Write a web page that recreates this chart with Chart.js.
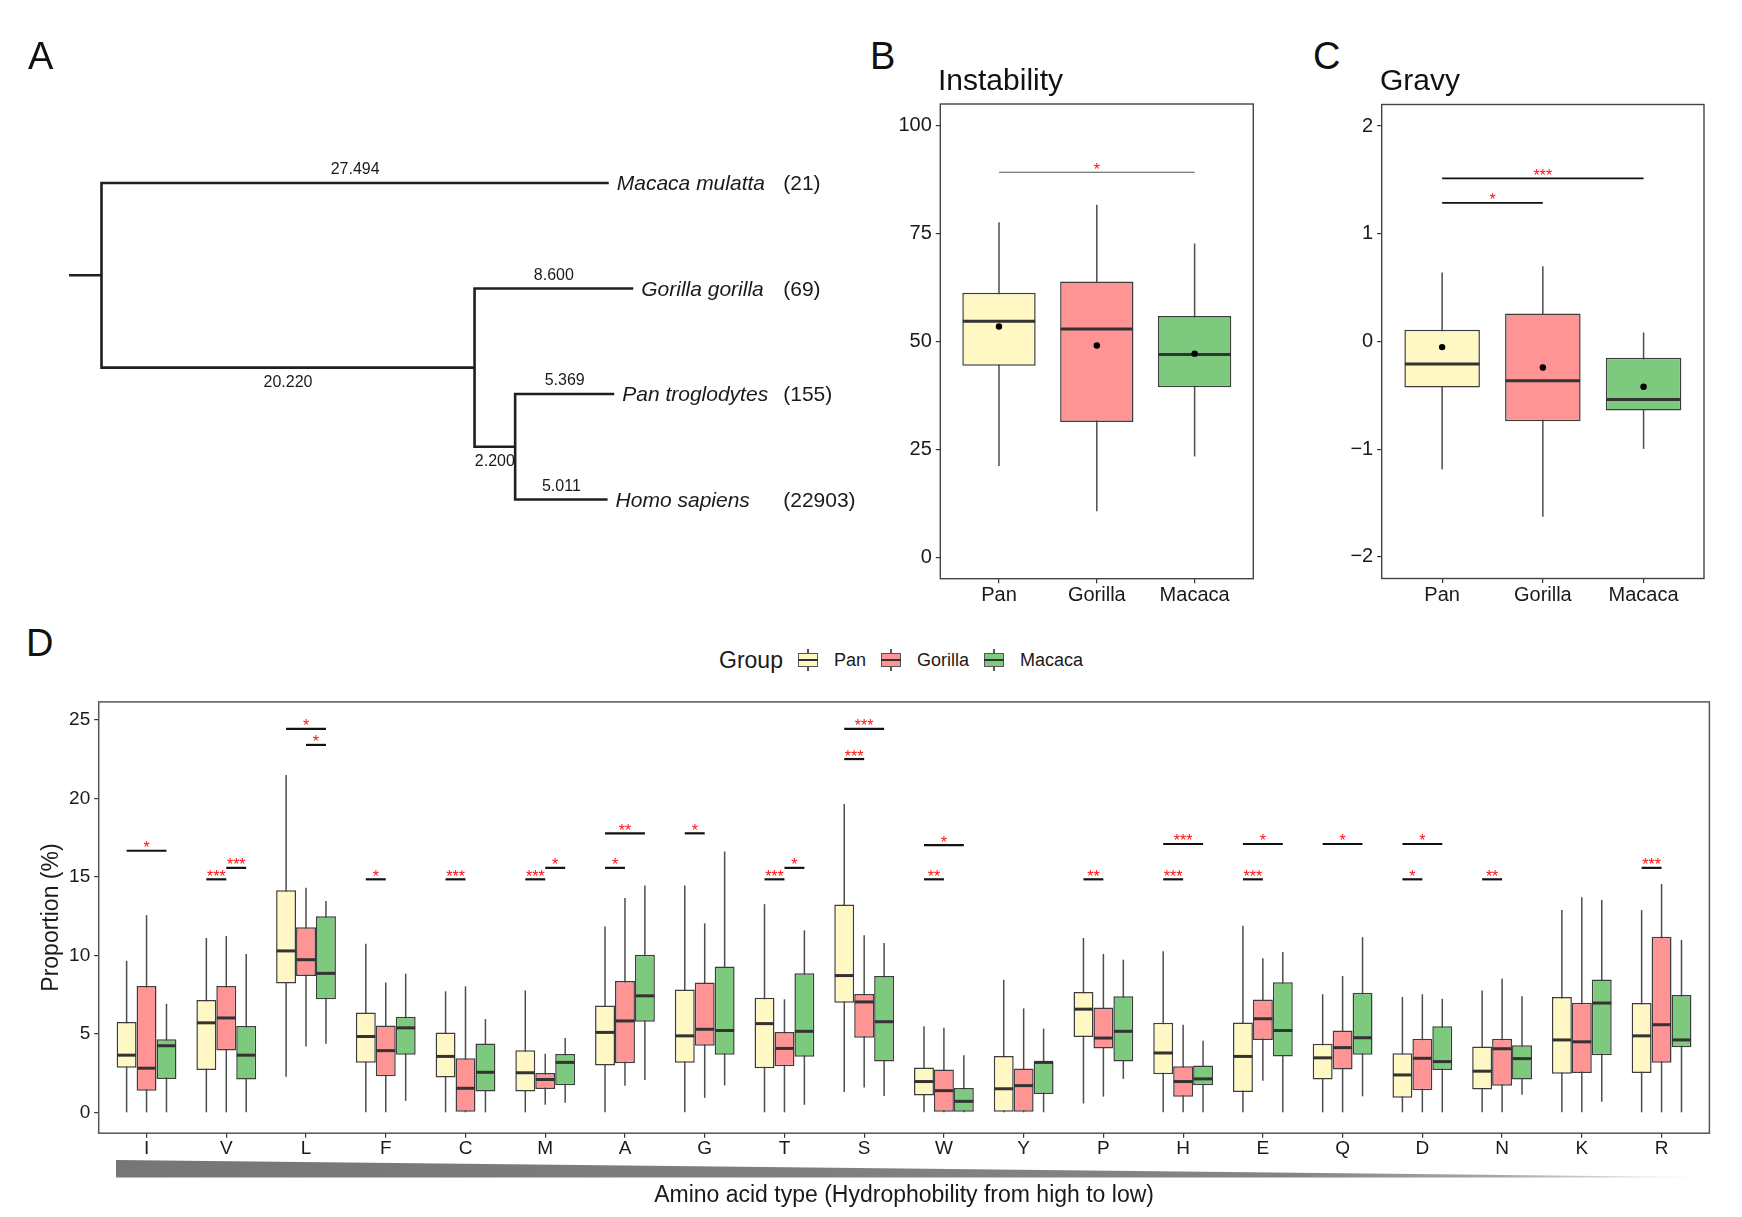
<!DOCTYPE html>
<html>
<head>
<meta charset="utf-8">
<script src="https://cdn.jsdelivr.net/npm/chart.js@4.4.1/dist/chart.umd.min.js"></script>
<style>
html,body{margin:0;padding:0;background:#fff;}
body{width:1742px;height:1217px;position:relative;overflow:hidden;font-family:"Liberation Sans",Arial,sans-serif;color:#1a1a1a;}
canvas{position:absolute;}
.t{position:absolute;line-height:0;white-space:nowrap;color:#111;}
#legendD{position:absolute;left:719px;top:648px;height:24px;display:flex;align-items:center;line-height:24px;white-space:nowrap;}
.key{position:relative;display:inline-block;width:20px;height:24px;margin-left:15px;}
.key .w{position:absolute;left:9.3px;width:1.4px;top:1px;height:22px;background:#555;}
.key .b{position:absolute;left:0;top:5px;width:20px;height:14px;box-sizing:border-box;border:1.3px solid #555;}
.key .m{position:absolute;left:0;top:11.1px;width:20px;height:1.8px;background:#333;}
.lab{margin-left:16px;font-size:18px;}
</style>
</head>
<body>
<canvas id="cTree" width="870" height="560" style="left:0;top:0;width:870px;height:560px"></canvas>
<canvas id="cB" width="420" height="525" style="left:860px;top:95px;width:420px;height:525px"></canvas>
<canvas id="cC" width="442" height="525" style="left:1300px;top:95px;width:442px;height:525px"></canvas>
<canvas id="cD" width="1742" height="527" style="left:0;top:690px;width:1742px;height:527px"></canvas>
<div id="legendD"></div>
<script>
// ---------------- shared ----------------
const groups = ['Pan', 'Gorilla', 'Macaca'];
const groupColors = ['#FFF8C5', '#FF9494', '#7DC97D'];

// ---------------- Panel A: tree ----------------
const taxa = ['Macaca mulatta', 'Gorilla gorilla', 'Pan troglodytes', 'Homo sapiens'];
const taxaCounts = ['(21)', '(69)', '(155)', '(22903)'];
const tipBranchLengths = [27.494, 8.600, 5.369, 5.011];
const internalBranchLengths = [20.220, 2.200]; // (Gorilla,(Pan,Homo)) ; (Pan,Homo)
const rootStub = 1.76;

// ---------------- Panel B: Instability ----------------
const instabilityTicks = [0, 25, 50, 75, 100];
const instabilityLow = [21.1, 10.6, 23.3];
const instabilityQ1 = [44.3, 31.3, 39.3];
const instabilityMedian = [54.6, 52.8, 46.9];
const instabilityQ3 = [61.2, 63.8, 55.8];
const instabilityHigh = [77.5, 81.6, 72.6];
const instabilityMean = [53.4, 49.0, 47.1];
const instabilitySig = [[0, 2, 89.1, '*']];

// ---------------- Panel C: Gravy ----------------
const gravyTicks = [-2, -1, 0, 1, 2];
const gravyLow = [-1.185, -1.626, -0.997];
const gravyQ1 = [-0.427, -0.741, -0.640];
const gravyMedian = [-0.210, -0.364, -0.538];
const gravyQ3 = [0.108, 0.259, -0.150];
const gravyHigh = [0.640, 0.699, 0.084];
const gravyMean = [-0.052, -0.241, -0.420];
const gravySig = [[0, 2, 1.514, '***'], [0, 1, 1.287, '*']];

// ---------------- Panel D: amino acids ----------------
const aminoAcids = ['I','V','L','F','C','M','A','G','T','S','W','Y','P','H','E','Q','D','N','K','R'];
const proportionTicks = [0, 5, 10, 15, 20, 25];
const panLow    = [0,0,2.26,0,0,0,0,0,0,1.29,0,0,0.56,0,0,0,0,0,0,0];
const panQ1     = [2.84,2.69,8.20,3.15,2.21,1.33,2.98,3.15,2.81,6.98,1.07,0,4.80,2.42,1.29,2.09,0.92,1.45,2.45,2.50];
const panMedian = [3.64,5.70,10.28,4.83,3.56,2.52,5.09,4.87,5.65,8.71,1.96,1.50,6.57,3.78,3.56,3.47,2.38,2.62,4.61,4.87];
const panQ3     = [5.75,7.15,14.14,6.35,5.09,3.95,6.81,7.83,7.30,13.24,2.86,3.59,7.66,5.70,5.72,4.36,3.76,4.19,7.35,6.96];
const panHigh   = [9.65,11.10,21.48,10.74,7.71,7.76,11.83,14.45,13.26,19.64,5.48,8.44,11.10,10.26,11.88,7.52,7.35,7.76,12.88,12.88];
const gorillaLow    = [0,0,4.19,0,0,0.48,1.70,0.92,0,1.58,0,0,1.00,0,2.01,0,0,0,0,0];
const gorillaQ1     = [1.38,3.93,8.68,2.30,0,1.48,3.13,4.24,2.93,4.75,0,0,4.07,0.99,4.61,2.72,1.41,1.70,2.50,3.15];
const gorillaMedian = [2.81,6.01,9.72,3.93,1.53,2.09,5.82,5.29,4.07,7.03,1.38,1.70,4.73,1.96,5.96,4.12,3.44,4.05,4.49,5.58];
const gorillaQ3     = [8.05,8.05,11.78,5.53,3.44,2.50,8.37,8.27,5.12,7.54,2.72,2.79,6.67,2.93,7.18,5.21,4.68,4.68,6.98,11.18];
const gorillaHigh   = [12.56,11.23,14.31,8.27,8.03,3.73,13.65,12.03,7.20,11.28,5.38,6.62,10.09,5.58,9.82,8.68,7.52,8.51,13.70,14.55];
const macacaLow    = [0,0,4.36,0.73,0,0.61,2.06,1.72,0.48,1.04,0,0,2.13,0,0,1.02,0,1.12,0.68,0];
const macacaQ1     = [2.13,2.09,7.20,3.66,1.33,1.72,5.77,3.66,3.54,3.23,0,1.16,3.23,1.72,3.56,3.66,2.69,2.09,3.64,4.15];
const macacaMedian = [4.24,3.64,8.85,5.38,2.55,3.18,7.42,5.21,5.16,5.77,0.70,3.18,5.16,2.13,5.21,4.75,3.23,3.42,6.96,4.61];
const macacaQ3     = [4.66,5.50,12.49,6.09,4.39,3.71,10.04,9.29,8.85,8.68,1.55,3.23,7.40,2.98,8.29,7.61,5.48,4.27,8.46,7.47];
const macacaHigh   = [6.91,10.09,13.46,8.83,5.94,4.73,14.45,16.61,11.59,10.79,3.64,5.33,9.72,4.56,10.21,11.15,7.23,7.40,13.53,10.98];
// [amino acid index, group a, group b, bracket height, label]
const aminoSig = [
  [0,0,2,16.66,'*'],
  [1,0,1,14.84,'***'],[1,1,2,15.57,'***'],
  [2,0,2,24.42,'*'],[2,1,2,23.40,'*'],
  [3,0,1,14.84,'*'],
  [4,0,1,14.84,'***'],
  [5,0,1,14.84,'***'],[5,1,2,15.57,'*'],
  [6,0,1,15.57,'*'],[6,0,2,17.77,'**'],
  [7,0,1,17.77,'*'],
  [8,0,1,14.84,'***'],[8,1,2,15.57,'*'],
  [9,0,1,22.50,'***'],[9,0,2,24.42,'***'],
  [10,0,1,14.84,'**'],[10,0,2,17.02,'*'],
  [12,0,1,14.84,'**'],
  [13,0,1,14.84,'***'],[13,0,2,17.09,'***'],
  [14,0,1,14.84,'***'],[14,0,2,17.09,'*'],
  [15,0,2,17.09,'*'],
  [16,0,1,14.84,'*'],[16,0,2,17.09,'*'],
  [17,0,1,14.84,'**'],
  [19,0,1,15.57,'***']
];

// ---------------------------------------------------------
const FF = '"Liberation Sans", Arial, sans-serif';
Chart.defaults.font.family = FF;
Chart.defaults.color = '#1a1a1a';

function zeroPad(s){ s.paddingLeft = 0; s.paddingRight = 0; s.paddingTop = 0; s.paddingBottom = 0; }
function minusFmt(v){ return v < 0 ? '\u2212' + Math.abs(v) : String(v); }

// HTML text placed by baseline
function addText(txt, left, baseline, size, extra){
  const d = document.createElement('div');
  d.className = 't';
  d.textContent = txt;
  d.style.fontSize = size + 'px';
  d.style.left = left + 'px';
  d.style.top = (baseline - 0.3465 * size) + 'px';
  if (extra) Object.assign(d.style, extra);
  document.body.appendChild(d);
}
addText('A', 28, 69, 38);
addText('B', 870, 69, 38);
addText('C', 1313, 69, 38);
addText('D', 26, 656, 38);
addText('Instability', 938, 90, 30);
addText('Gravy', 1380, 90, 30);

// Legend for D
(function(){
  const leg = document.getElementById('legendD');
  const g = document.createElement('span');
  g.textContent = 'Group'; g.style.fontSize = '23px';
  leg.appendChild(g);
  groups.forEach((name, i) => {
    const k = document.createElement('span'); k.className = 'key';
    const w = document.createElement('div'); w.className = 'w';
    const b = document.createElement('div'); b.className = 'b'; b.style.background = groupColors[i];
    const m = document.createElement('div'); m.className = 'm';
    k.appendChild(w); k.appendChild(b); k.appendChild(m);
    leg.appendChild(k);
    const l = document.createElement('span'); l.className = 'lab'; l.textContent = name;
    leg.appendChild(l);
  });
})();

// ---------------- common plugins ----------------
const boxParts = {
  id: 'boxParts',
  beforeDatasetsDraw(chart){
    const y = chart.scales.y, ctx = chart.ctx;
    chart.data.datasets.forEach((ds, di) => {
      if (!ds.whiskerLow) return;
      const meta = chart.getDatasetMeta(di);
      meta.data.forEach((el, i) => {
        ctx.save();
        ctx.strokeStyle = '#4d4d4d';
        ctx.lineWidth = ds.whiskerWidth || 1.5;
        ctx.beginPath();
        ctx.moveTo(el.x, y.getPixelForValue(ds.whiskerLow[i]));
        ctx.lineTo(el.x, y.getPixelForValue(ds.whiskerHigh[i]));
        ctx.stroke();
        ctx.restore();
      });
    });
  },
  afterDatasetDraw(chart, args){
    const ds = chart.data.datasets[args.index];
    if (!ds.medians) return;
    const y = chart.scales.y, ctx = chart.ctx;
    args.meta.data.forEach((el, i) => {
      const py = y.getPixelForValue(ds.medians[i]);
      ctx.save();
      ctx.strokeStyle = '#333';
      ctx.lineWidth = ds.medianWidth || 3;
      ctx.beginPath();
      ctx.moveTo(el.x - el.width / 2 + 0.5, py);
      ctx.lineTo(el.x + el.width / 2 - 0.5, py);
      ctx.stroke();
      ctx.restore();
    });
  }
};
function borderPlugin(color, width){
  return {
    id: 'panelBorder',
    afterDraw(chart){
      const a = chart.chartArea, ctx = chart.ctx;
      ctx.save();
      ctx.strokeStyle = color; ctx.lineWidth = width;
      ctx.strokeRect(a.left, a.top, a.right - a.left, a.bottom - a.top);
      ctx.restore();
    }
  };
}
function sigPlugin(items, xFor, lineColor, lineWidth){
  return {
    id: 'sigBars',
    afterDatasetsDraw(chart){
      const y = chart.scales.y, ctx = chart.ctx;
      items.forEach(it => {
        const [xa, xb, py, lab] = xFor(chart, it, y);
        ctx.save();
        ctx.strokeStyle = lineColor; ctx.lineWidth = lineWidth;
        ctx.beginPath(); ctx.moveTo(xa, py); ctx.lineTo(xb, py); ctx.stroke();
        ctx.fillStyle = '#FF1010';
        ctx.font = '16px ' + FF;
        ctx.textAlign = 'center'; ctx.textBaseline = 'alphabetic';
        ctx.fillText(lab, (xa + xb) / 2, py + 2.5);
        ctx.restore();
      });
    }
  };
}

// ---------------- Panel A chart ----------------
(function(){
  const xGPH = internalBranchLengths[0];
  const xPH = xGPH + internalBranchLengths[1];
  const tipX = [tipBranchLengths[0], xGPH + tipBranchLengths[1], xPH + tipBranchLengths[2], xPH + tipBranchLengths[3]];
  const tipY = [0, 1, 2, 3];
  const yPH = (tipY[2] + tipY[3]) / 2;
  const yGPH = (tipY[1] + yPH) / 2;
  const yRoot = (tipY[0] + yGPH) / 2;
  const paths = [
    [[-rootStub, yRoot], [0, yRoot]],
    [[tipX[0], tipY[0]], [0, tipY[0]], [0, yGPH], [xGPH, yGPH]],
    [[tipX[1], tipY[1]], [xGPH, tipY[1]], [xGPH, yPH], [xPH, yPH]],
    [[tipX[2], tipY[2]], [xPH, tipY[2]], [xPH, tipY[3]], [tipX[3], tipY[3]]]
  ];
  const branchLabels = [
    {x0: 0, x1: tipX[0], y: tipY[0], v: tipBranchLengths[0], below: false},
    {x0: 0, x1: xGPH, y: yGPH, v: internalBranchLengths[0], below: true},
    {x0: xGPH, x1: tipX[1], y: tipY[1], v: tipBranchLengths[1], below: false},
    {x0: xGPH, x1: xPH, y: yPH, v: internalBranchLengths[1], below: true},
    {x0: xPH, x1: tipX[2], y: tipY[2], v: tipBranchLengths[2], below: false},
    {x0: xPH, x1: tipX[3], y: tipY[3], v: tipBranchLengths[3], below: false}
  ];
  const treeText = {
    id: 'treeText',
    afterDatasetsDraw(chart){
      const xs = chart.scales.x, ys = chart.scales.y, ctx = chart.ctx;
      ctx.save();
      ctx.fillStyle = '#1a1a1a';
      ctx.textBaseline = 'alphabetic';
      ctx.textAlign = 'left';
      ctx.font = 'italic 21px ' + FF;
      taxa.forEach((t, i) => ctx.fillText(t, xs.getPixelForValue(tipX[i]) + 8, ys.getPixelForValue(tipY[i]) + 7.5));
      const cx = xs.getPixelForValue(Math.max(...tipX)) + 150;
      ctx.font = '21px ' + FF;
      taxaCounts.forEach((t, i) => ctx.fillText(t, cx, ys.getPixelForValue(tipY[i]) + 7.5));
      ctx.font = '16px ' + FF;
      ctx.textAlign = 'center';
      branchLabels.forEach(b => {
        const px = xs.getPixelForValue((b.x0 + b.x1) / 2);
        const py = ys.getPixelForValue(b.y) + (b.below ? 19.5 : -8.5);
        ctx.fillText(b.v.toFixed(3), px, py);
      });
      ctx.restore();
    }
  };
  new Chart(document.getElementById('cTree'), {
    type: 'line',
    data: {
      datasets: paths.map(p => ({
        data: p.map(([x, y]) => ({x, y})),
        borderColor: '#1f1f1f', borderWidth: 2.6, pointRadius: 0, fill: false, tension: 0,
        borderJoinStyle: 'miter', borderCapStyle: 'butt'
      }))
    },
    options: {
      responsive: false, animation: false, events: [],
      layout: {padding: 0, autoPadding: false},
      scales: {
        x: {type: 'linear', display: false, min: -5.501, max: 41.653},
        y: {type: 'linear', display: false, reverse: true, min: -1.7346, max: 3.574}
      },
      plugins: {legend: {display: false}, tooltip: {enabled: false}}
    },
    plugins: [treeText]
  });
})();

// ---------------- Panels B & C ----------------
function makeSmallBox(id, st){
  const sigX = (chart, it, y) => {
    const xs = chart.scales.x;
    return [xs.getPixelForValue(it[0] + 1), xs.getPixelForValue(it[1] + 1), y.getPixelForValue(it[2]), it[3]];
  };
  new Chart(document.getElementById(id), {
    type: 'bar',
    data: {
      datasets: [
        {
          type: 'bar',
          data: groups.map((g, i) => ({x: i + 1, y: [st.q1[i], st.q3[i]]})),
          backgroundColor: groupColors,
          borderColor: '#3d3d3d', borderWidth: 1.5, borderSkipped: false,
          categoryPercentage: 0.75, barPercentage: 1,
          whiskerLow: st.low, whiskerHigh: st.high, medians: st.med, medianWidth: 3,
          order: 1
        },
        {
          type: 'scatter',
          data: groups.map((g, i) => ({x: i + 1, y: st.mean[i]})),
          pointRadius: 3.2, pointBackgroundColor: '#000', pointBorderWidth: 0,
          order: 0
        }
      ]
    },
    options: {
      responsive: false, animation: false, events: [],
      layout: {padding: {left: 0, top: st.padTop, right: st.padRight, bottom: 0}, autoPadding: false},
      scales: {
        x: {
          type: 'linear', min: 0.4, max: 3.6, offset: false,
          afterBuildTicks: s => { s.ticks = groups.map((g, i) => ({value: i + 1})); },
          afterFit: s => { s.height = st.xHeight; zeroPad(s); },
          ticks: {autoSkip: false, maxRotation: 0, padding: 0, font: {size: 20}, color: '#1a1a1a',
                  callback: v => groups[Math.round(v) - 1]},
          grid: {offset: false, drawOnChartArea: false, tickLength: 4.5, color: '#333', lineWidth: 1.2},
          border: {display: false}
        },
        y: {
          type: 'linear', min: st.min, max: st.max,
          afterBuildTicks: s => { s.ticks = st.ticks.map(v => ({value: v})); },
          afterFit: s => { s.width = st.yWidth; zeroPad(s); },
          ticks: {padding: 4, font: {size: 20}, color: '#1a1a1a', callback: v => minusFmt(v)},
          grid: {drawOnChartArea: false, tickLength: 4.5, color: '#333', lineWidth: 1.2},
          border: {display: false}
        }
      },
      plugins: {legend: {display: false}, tooltip: {enabled: false}}
    },
    plugins: [boxParts, borderPlugin('#444', 1.4), sigPlugin(st.sig, sigX, st.sigColor, st.sigWidth)]
  });
}
makeSmallBox('cB', {
  low: instabilityLow, q1: instabilityQ1, med: instabilityMedian, q3: instabilityQ3, high: instabilityHigh, mean: instabilityMean,
  ticks: instabilityTicks, min: -5.0, max: 104.9, sig: instabilitySig, sigColor: '#555', sigWidth: 1.1,
  padTop: 9, padRight: 26.7, yWidth: 80.3, xHeight: 41.3
});
makeSmallBox('cC', {
  low: gravyLow, q1: gravyQ1, med: gravyMedian, q3: gravyQ3, high: gravyHigh, mean: gravyMean,
  ticks: gravyTicks, min: -2.2, max: 2.2, sig: gravySig, sigColor: '#111', sigWidth: 1.8,
  padTop: 9.5, padRight: 38, yWidth: 81.7, xHeight: 41.5
});

// ---------------- Panel D ----------------
(function(){
  const stats = [
    {low: panLow, q1: panQ1, med: panMedian, q3: panQ3, high: panHigh},
    {low: gorillaLow, q1: gorillaQ1, med: gorillaMedian, q3: gorillaQ3, high: gorillaHigh},
    {low: macacaLow, q1: macacaQ1, med: macacaMedian, q3: macacaQ3, high: macacaHigh}
  ];
  const sigX = (chart, it, y) => {
    const a = chart.getDatasetMeta(it[1]).data[it[0]];
    const b = chart.getDatasetMeta(it[2]).data[it[0]];
    return [a.x, b.x, y.getPixelForValue(it[3]), it[4]];
  };
  const wedge = {
    id: 'wedge',
    afterDraw(chart){
      const a = chart.chartArea, ctx = chart.ctx;
      const x0 = a.left + 17.3, x1 = a.right - 19.4;
      const yb = a.bottom + 44.3, yt = a.bottom + 26.8;
      const g = ctx.createLinearGradient(x0, 0, x1, 0);
      g.addColorStop(0, '#767676');
      g.addColorStop(0.75, '#858585');
      g.addColorStop(0.88, '#a8a8a8');
      g.addColorStop(1, '#f6f6f6');
      ctx.save();
      ctx.fillStyle = g;
      ctx.beginPath();
      ctx.moveTo(x0, yt); ctx.lineTo(x1, yb - 0.6); ctx.lineTo(x1, yb); ctx.lineTo(x0, yb);
      ctx.closePath(); ctx.fill();
      ctx.restore();
    }
  };
  new Chart(document.getElementById('cD'), {
    type: 'bar',
    data: {
      datasets: stats.map((s, gi) => ({
        label: groups[gi],
        data: aminoAcids.map((aa, i) => ({x: i + 1, y: [s.q1[i], s.q3[i]]})),
        backgroundColor: groupColors[gi],
        borderColor: '#3d3d3d', borderWidth: 1.5, borderSkipped: false,
        categoryPercentage: 0.75, barPercentage: 1,
        whiskerLow: s.low, whiskerHigh: s.high, medians: s.med, medianWidth: 3
      }))
    },
    options: {
      responsive: false, animation: false, events: [],
      layout: {padding: {left: 0, top: 11.9, right: 32.6, bottom: 0}, autoPadding: false},
      scales: {
        x: {
          type: 'linear', min: 0.4, max: 20.6, offset: false,
          afterBuildTicks: s => { s.ticks = aminoAcids.map((a, i) => ({value: i + 1})); },
          afterFit: s => { s.height = 83.8; zeroPad(s); },
          ticks: {autoSkip: false, maxRotation: 0, padding: 0, font: {size: 19}, color: '#1a1a1a',
                  callback: v => aminoAcids[Math.round(v) - 1]},
          grid: {offset: false, drawOnChartArea: false, tickLength: 4.5, color: '#333', lineWidth: 1.2},
          border: {display: false},
          title: {display: true, text: 'Amino acid type (Hydrophobility from high to low)',
                  font: {size: 23}, color: '#1a1a1a', padding: {top: 0, bottom: 8}}
        },
        y: {
          type: 'linear', min: -1.33, max: 26.14,
          afterBuildTicks: s => { s.ticks = proportionTicks.map(v => ({value: v})); },
          afterFit: s => { s.width = 98.7; zeroPad(s); },
          ticks: {padding: 4, font: {size: 19}, color: '#1a1a1a'},
          grid: {drawOnChartArea: false, tickLength: 4.5, color: '#333', lineWidth: 1.2},
          border: {display: false},
          title: {display: true, text: 'Proportion (%)', font: {size: 23}, color: '#1a1a1a',
                  padding: {top: 38.2, bottom: 0}}
        }
      },
      plugins: {legend: {display: false}, tooltip: {enabled: false}}
    },
    plugins: [boxParts, borderPlugin('#555', 1.5), sigPlugin(aminoSig, sigX, '#111', 2.2), wedge]
  });
})();
</script>
</body>
</html>
